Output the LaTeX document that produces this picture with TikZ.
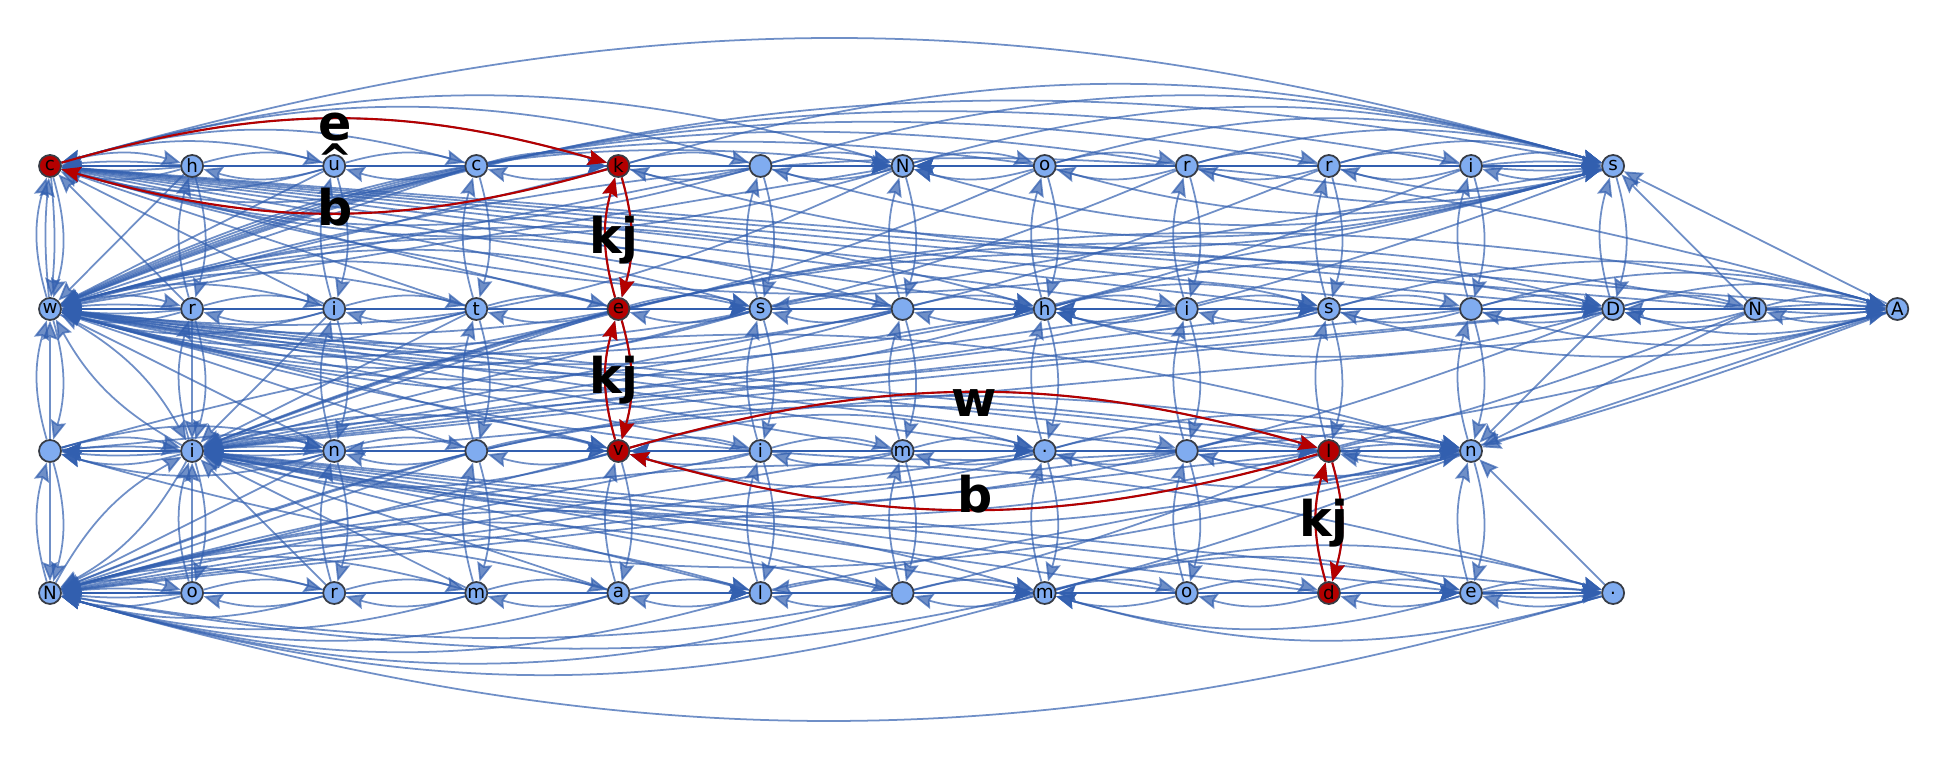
\documentclass[tikz,border=0pt]{standalone}
\usepackage{fontspec}
\setsansfont{DejaVu Sans}
\usetikzlibrary{arrows.meta, backgrounds}

\definecolor{edgeblue}{RGB}{50,95,175}
\definecolor{vtxblue}{RGB}{128,172,240}
\definecolor{vtxline}{RGB}{55,60,70}
\definecolor{pathred}{RGB}{180,0,0}

\tikzset{
  vtx/.style={circle, draw=vtxline, line width=0.5pt, minimum size=0.22cm, inner sep=0pt,
    font=\sffamily\fontsize{5.2}{6}\selectfont},
  edge/.style={draw=edgeblue, opacity=0.7, line width=0.5pt,
    -{Stealth[length=5.4pt, width=4.4pt, inset=0.8pt]}},
  hotedge/.style={draw=pathred, line width=0.6pt,
    -{Stealth[length=5.4pt, width=4.4pt, inset=0.8pt]}},
  lab/.style={inner sep=0pt, font=\sffamily\bfseries\fontsize{14}{14}\selectfont},
}

% #1,#2 = node pair, #3 = edges #1->#2, #4 = edges #2->#1
\newcommand\linkpair[4]{%
  \pgfmathtruncatemacro\ntot{#3+#4}%
  \ifnum\ntot=1
    \ifnum#3=1 \draw[edge] (#1) -- (#2); \else \draw[edge] (#2) -- (#1); \fi
  \else
    \foreach \k in {1,...,\ntot} {
      \pgfmathsetmacro\ang{16-32*(\k-1)/(\ntot-1)}
      \ifnum\k>#3 \draw[edge] (#2) to[bend right=\ang] (#1);
      \else \draw[edge] (#1) to[bend left=\ang] (#2); \fi
    }
  \fi}

\begin{document}
\begin{tikzpicture}
\useasboundingbox (0,0) rectangle (19.48,-7.6);

% vertices, one row per line of text
\foreach \t/\f [count=\i from 0] in {c/pathred,h/vtxblue,u/vtxblue,c/vtxblue,k/pathred,{}/vtxblue,N/vtxblue,o/vtxblue,r/vtxblue,r/vtxblue,i/vtxblue,s/vtxblue}
  \node[vtx, fill=\f] (a\i) at (0.5+1.421*\i, -1.66) {\t};
\foreach \t/\f [count=\i from 0] in {w/vtxblue,r/vtxblue,i/vtxblue,t/vtxblue,e/pathred,s/vtxblue,{}/vtxblue,h/vtxblue,i/vtxblue,s/vtxblue,{}/vtxblue,D/vtxblue,N/vtxblue,A/vtxblue}
  \node[vtx, fill=\f] (b\i) at (0.5+1.421*\i, -3.09) {\t};
\foreach \t/\f [count=\i from 0] in {{}/vtxblue,i/vtxblue,n/vtxblue,{}/vtxblue,v/pathred,i/vtxblue,m/vtxblue,./vtxblue,{}/vtxblue,I/pathred,n/vtxblue}
  \node[vtx, fill=\f] (c\i) at (0.5+1.421*\i, -4.51) {\t};
\foreach \t/\f [count=\i from 0] in {N/vtxblue,o/vtxblue,r/vtxblue,m/vtxblue,a/vtxblue,l/vtxblue,{}/vtxblue,m/vtxblue,o/vtxblue,d/pathred,e/vtxblue,./vtxblue}
  \node[vtx, fill=\f] (d\i) at (0.5+1.421*\i, -5.93) {\t};

\begin{scope}[on background layer]
% first line
\linkpair{a0}{a1}{1}{3} \linkpair{a0}{a2}{0}{2} \linkpair{a0}{a3}{0}{2}
\linkpair{a0}{a4}{1}{2} \linkpair{a0}{a5}{0}{2} \linkpair{a0}{a6}{1}{2}
\foreach \q in {7,...,10} {\linkpair{a0}{a\q}{0}{1}}
\linkpair{a0}{a11}{1}{1}
\linkpair{a1}{a2}{1}{1} \linkpair{a2}{a3}{1}{1} \linkpair{a3}{a4}{2}{1}
\linkpair{a4}{a5}{1}{1} \linkpair{a5}{a6}{2}{1} \linkpair{a6}{a7}{1}{2}
\linkpair{a7}{a8}{1}{1} \linkpair{a8}{a9}{1}{1} \linkpair{a9}{a10}{1}{1}
\linkpair{a10}{a11}{3}{1} \linkpair{a6}{a11}{2}{1}
\foreach \q in {1,2} {\linkpair{a\q}{a4}{1}{0}}
\foreach \q in {1,...,4} {\linkpair{a\q}{a6}{1}{0}}
\foreach \q in {1,2,3} {\linkpair{a\q}{a11}{1}{0}}
\foreach \q in {4,5,7,8,9} {\linkpair{a\q}{a11}{2}{0}}
\foreach \q in {8,9,10} {\linkpair{a6}{a\q}{0}{1}}
% second line
\linkpair{b0}{b1}{1}{3} \linkpair{b0}{b5}{1}{2} \linkpair{b0}{b7}{1}{2}
\foreach \q in {2,3,4,6} {\linkpair{b0}{b\q}{0}{2}}
\foreach \q in {8,...,12} {\linkpair{b0}{b\q}{0}{1}}
\linkpair{b0}{b13}{1}{1}
\linkpair{b1}{b2}{1}{1} \linkpair{b2}{b3}{1}{1} \linkpair{b3}{b4}{1}{1}
\linkpair{b4}{b5}{2}{1} \linkpair{b5}{b6}{1}{1} \linkpair{b6}{b7}{2}{1}
\linkpair{b7}{b8}{1}{2} \linkpair{b8}{b9}{2}{1} \linkpair{b9}{b10}{1}{1}
\linkpair{b10}{b11}{2}{1} \linkpair{b11}{b12}{1}{2} \linkpair{b12}{b13}{3}{1}
\linkpair{b7}{b9}{1}{1} \linkpair{b7}{b10}{0}{1} \linkpair{b7}{b11}{1}{1}
\linkpair{b11}{b13}{2}{1}
\foreach \q in {1,2,3} {\linkpair{b\q}{b5}{1}{0}}
\foreach \q in {1,...,5} {\linkpair{b\q}{b7}{1}{0}}
\foreach \q in {5,6} {\linkpair{b\q}{b9}{1}{0}}
\foreach \q in {8,9} {\linkpair{b\q}{b11}{1}{0}}
\foreach \q in {1,...,8} {\linkpair{b\q}{b13}{1}{0}}
\foreach \q in {9,10} {\linkpair{b\q}{b13}{2}{0}}
% third line
\linkpair{c0}{c1}{2}{2} \linkpair{c0}{c2}{1}{1} \linkpair{c0}{c10}{1}{1}
\foreach \q in {3,...,9} {\linkpair{c0}{c\q}{0}{1}}
\linkpair{c1}{c2}{2}{2} \linkpair{c1}{c3}{0}{1} \linkpair{c1}{c4}{1}{1}
\linkpair{c1}{c10}{1}{0}
\linkpair{c2}{c3}{1}{1} \linkpair{c3}{c4}{2}{1} \linkpair{c4}{c5}{1}{2}
\linkpair{c5}{c6}{1}{1} \linkpair{c6}{c7}{2}{1} \linkpair{c7}{c8}{1}{1}
\linkpair{c8}{c9}{2}{1} \linkpair{c9}{c10}{3}{2}
\linkpair{c4}{c6}{0}{1} \linkpair{c4}{c7}{1}{1} \linkpair{c4}{c8}{0}{1}
\linkpair{c4}{c9}{1}{1} \linkpair{c2}{c4}{1}{0}
\foreach \q in {2,3,5} {\linkpair{c\q}{c7}{1}{0}}
\foreach \q in {5,6,7} {\linkpair{c\q}{c9}{1}{0}}
\foreach \q in {2,...,6} {\linkpair{c\q}{c10}{1}{0}}
\foreach \q in {7,8} {\linkpair{c\q}{c10}{2}{0}}
% fourth line
\linkpair{d0}{d1}{1}{3} \linkpair{d0}{d5}{1}{2} \linkpair{d0}{d7}{1}{2}
\foreach \q in {2,3,4,6} {\linkpair{d0}{d\q}{0}{2}}
\foreach \q in {8,9,10} {\linkpair{d0}{d\q}{0}{1}}
\linkpair{d0}{d11}{1}{1}
\linkpair{d1}{d2}{1}{1} \linkpair{d2}{d3}{1}{1} \linkpair{d3}{d4}{1}{1}
\linkpair{d4}{d5}{2}{1} \linkpair{d5}{d6}{1}{1} \linkpair{d6}{d7}{2}{1}
\linkpair{d7}{d8}{1}{2} \linkpair{d8}{d9}{1}{1} \linkpair{d9}{d10}{2}{1}
\linkpair{d10}{d11}{3}{1} \linkpair{d7}{d11}{2}{1}
\linkpair{d7}{d9}{0}{1} \linkpair{d7}{d10}{1}{1}
\foreach \q in {1,2,3} {\linkpair{d\q}{d5}{1}{0}}
\foreach \q in {1,...,5} {\linkpair{d\q}{d7}{1}{0}}
\foreach \q in {5,6,8} {\linkpair{d\q}{d10}{1}{0}}
\foreach \q in {1,...,6,8,9} {\linkpair{d\q}{d11}{1}{0}}
% between first and second line
\linkpair{a0}{b0}{2}{2}
\foreach \q in {1,...,11} {\linkpair{a\q}{b\q}{1}{1}}
\foreach \q in {1,...,13} {\linkpair{a0}{b\q}{0}{1}}
\foreach \q in {1,...,5} {\linkpair{a\q}{b0}{1}{0}}
\linkpair{a6}{b0}{2}{1}
\foreach \q in {7,...,11} {\linkpair{a\q}{b0}{2}{0}}
\linkpair{a11}{b12}{0}{1} \linkpair{a11}{b13}{0}{1} \linkpair{a11}{b5}{1}{0}
% between second and third line
\linkpair{b0}{c0}{1}{2} \linkpair{b0}{c1}{1}{1} \linkpair{b1}{c1}{2}{1}
\foreach \q in {2,...,10} {\linkpair{b0}{c\q}{0}{1} \linkpair{b\q}{c1}{1}{0} \linkpair{b\q}{c\q}{1}{1}}
\linkpair{b11}{c1}{2}{1} \linkpair{b12}{c1}{2}{0} \linkpair{b13}{c1}{2}{0}
\foreach \q in {11,12,13} {\linkpair{b\q}{c10}{1}{0}}
\linkpair{b13}{c2}{1}{0} \linkpair{b11}{c0}{0}{1}
% between third and fourth line
\linkpair{c0}{d0}{2}{1} \linkpair{c1}{d0}{1}{1} \linkpair{c1}{d1}{1}{2}
\foreach \q in {2,...,11} {\linkpair{c1}{d\q}{0}{1}}
\foreach \q in {2,...,8} {\linkpair{c\q}{d0}{1}{0}}
\linkpair{c9}{d0}{2}{1} \linkpair{c10}{d0}{2}{0}
\foreach \q in {2,...,10} {\linkpair{c\q}{d\q}{1}{1}}
\linkpair{c10}{d11}{0}{1} \linkpair{c10}{d5}{1}{0}
% highlighted path
\draw[hotedge] (a0) to[bend left=16] (a4);
\draw[hotedge] (a4) to[bend left=16] (a0);
\draw[hotedge] (a4) to[bend left=16] (b4);
\draw[hotedge] (b4) to[bend left=16] (a4);
\draw[hotedge] (b4) to[bend left=16] (c4);
\draw[hotedge] (c4) to[bend left=16] (b4);
\draw[hotedge] (c4) to[bend left=16] (c9);
\draw[hotedge] (c9) to[bend left=16] (c4);
\draw[hotedge] (c9) to[bend left=16] (d9);
\draw[hotedge] (d9) to[bend left=16] (c9);
\end{scope}

% motion labels
\node[lab] (le) at (3.35, -1.27) {e};
\node[lab, anchor=south, font=\sffamily\bfseries\fontsize{12}{12}\selectfont] (lhat) at (3.35, -1.545)
  {\raisebox{-0.49em}[0.24em][0pt]{\textasciicircum}};
\node[lab] (lb1) at (3.35, -2.07) {b};
\node[lab] (lkj1) at (6.14, -2.40) {kj};
\node[lab] (lkj2) at (6.14, -3.80) {kj};
\node[lab] (lw) at (9.74, -4.03) {w};
\node[lab] (lb2) at (9.75, -4.94) {b};
\node[lab] (lkj3) at (13.24, -5.23) {kj};
\end{tikzpicture}
\end{document}
